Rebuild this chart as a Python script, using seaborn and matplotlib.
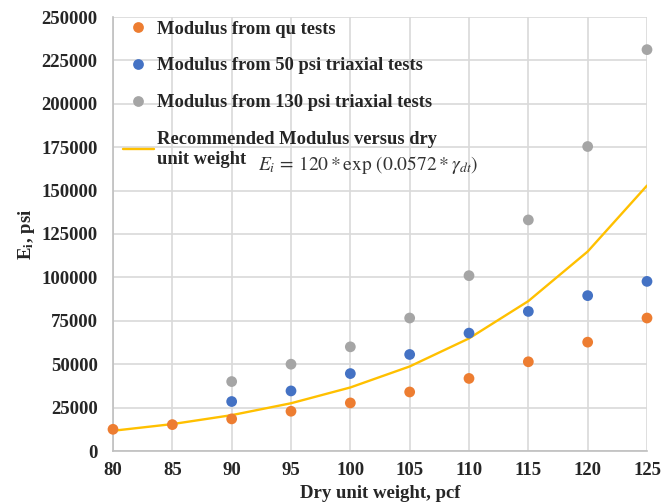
import numpy as np
import pandas as pd
import matplotlib
matplotlib.use("Agg")
import matplotlib.pyplot as plt
import seaborn as sns

# Dry unit weight (pcf) and measured moduli (psi)
gamma_qu = [80, 85, 90, 95, 100, 105, 110, 115, 120, 125]
mod_qu = [12500, 15200, 18500, 22900, 27700, 34000, 41800, 51400, 62700, 76600]

gamma_tri = [90, 95, 100, 105, 110, 115, 120, 125]
mod_50psi = [28500, 34600, 44600, 55600, 67900, 80400, 89500, 97700]
mod_130psi = [40000, 50000, 60000, 76600, 101000, 133100, 175400, 231200]

# Recommended modulus curve, E_i = 120*exp(0.0572*gamma)
gamma_rec = [80, 85, 90, 95, 100, 105, 110, 115, 120, 125]
mod_rec = [11650, 15500, 20650, 27500, 36600, 48700, 64850, 86350, 114900, 152900]

x_ticks = [80, 85, 90, 95, 100, 105, 110, 115, 120, 125]
y_ticks = [0, 25000, 50000, 75000, 100000, 125000, 150000, 175000, 200000, 225000, 250000]

labels = ["Modulus from qu tests",
          "Modulus from 50 psi triaxial tests",
          "Modulus from 130 psi triaxial tests",
          "Recommended Modulus versus dry\nunit weight"]
colors = ["#ED7D31", "#4472C4", "#A5A5A5", "#FFC000"]

pts = pd.concat([
    pd.DataFrame({"gamma": gamma_qu, "E": mod_qu, "series": labels[0]}),
    pd.DataFrame({"gamma": gamma_tri, "E": mod_50psi, "series": labels[1]}),
    pd.DataFrame({"gamma": gamma_tri, "E": mod_130psi, "series": labels[2]}),
], ignore_index=True)
rec = pd.DataFrame({"gamma": gamma_rec, "E": mod_rec})

sns.set_style("white")
plt.rcParams["font.family"] = ["Liberation Serif", "DejaVu Serif"]
plt.rcParams["mathtext.fontset"] = "stix"

fig = plt.figure(figsize=(6.61, 5.04), dpi=100)
ax = fig.add_axes([113 / 661, 1 - 451 / 504, (647 - 113) / 661, (451 - 17) / 504])

grid_c = "#D9D9D9"
ax.set_xlim(80, 125)
ax.set_ylim(0, 250000)
ax.set_xticks(x_ticks)
ax.set_yticks(y_ticks)
ax.grid(True, color=grid_c, linewidth=1.2)
ax.set_axisbelow(True)
for s in ["top", "right"]:
    ax.spines[s].set_visible(False)
ax.spines["left"].set_color("#BFBFBF")
ax.spines["bottom"].set_color("#BFBFBF")
ax.spines["left"].set_linewidth(1.2)
ax.spines["bottom"].set_linewidth(1.2)

sns.lineplot(data=rec, x="gamma", y="E", ax=ax, color=colors[3], linewidth=1.7,
             label=labels[3], zorder=2)
sns.scatterplot(data=pts, x="gamma", y="E", hue="series",
                hue_order=labels[:3], palette=colors[:3], ax=ax, s=60,
                linewidth=0, zorder=3, clip_on=False)

ax.tick_params(length=0, labelsize=13.5)
for lab in ax.get_xticklabels() + ax.get_yticklabels():
    lab.set_fontweight("bold")
ax.tick_params(axis="x", pad=8)
ax.tick_params(axis="y", pad=11)

ax.set_xlabel("Dry unit weight, pcf", fontsize=13.5, fontweight="bold", labelpad=4)
ax.set_ylabel(r"E$_\mathbf{i}$, psi", fontsize=13.5, fontweight="bold", labelpad=3)

handles, lbls = ax.get_legend_handles_labels()
order = [lbls.index(l) for l in labels]
leg = ax.legend([handles[i] for i in order], [lbls[i] for i in order],
                loc="upper left", bbox_to_anchor=(-0.013, 1.03), frameon=False,
                prop={"family": "Liberation Serif", "weight": "bold", "size": 13.3},
                labelspacing=1.07, handlelength=1.7, handletextpad=0.15,
                markerscale=1.0)

ax.text(0.2715, 0.659, r"$E_i\,=\,120 * \exp\,(0.0572 * \gamma_{dt})$",
        transform=ax.transAxes, fontsize=14, color="#333333", ha="left", va="center")

fig.savefig("out.png", dpi=100)
